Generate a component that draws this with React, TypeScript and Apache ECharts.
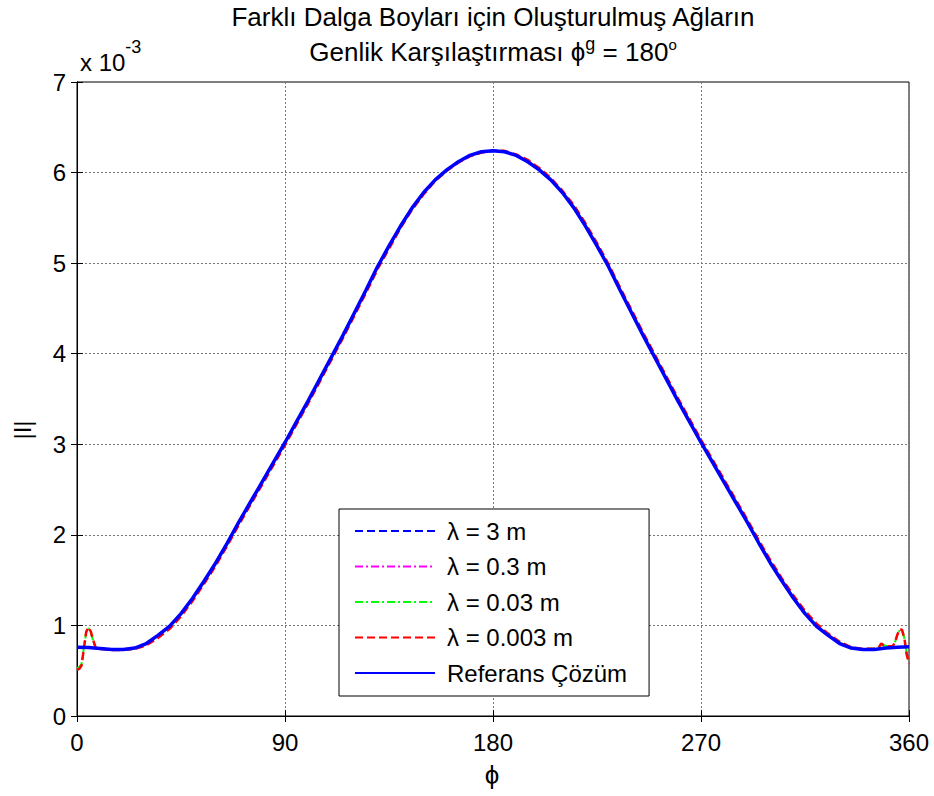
import React, { useEffect, useRef } from "react";
import * as echarts from "echarts";

// ---- data ----
const PHI = [
  0, 5, 10, 15, 20, 25, 30, 35, 40, 45, 50, 55, 60, 65, 70, 75, 80, 85, 90,
  95, 100, 105, 110, 115, 120, 125, 130, 135, 140, 145, 150, 155, 160, 165, 170, 175, 180,
  185, 190, 195, 200, 205, 210, 215, 220, 225, 230, 235, 240, 245, 250, 255, 260, 265, 270,
  275, 280, 285, 290, 295, 300, 305, 310, 315, 320, 325, 330, 335, 340, 345, 350, 355, 360,
];

// Referans Çözüm (×10^-3)
const REF = [
  0.76, 0.755, 0.745, 0.735, 0.735, 0.75, 0.8, 0.89, 0.99, 1.13, 1.3, 1.49, 1.69, 1.91, 2.14, 2.36, 2.58, 2.8, 3.02,
  3.25, 3.48, 3.72, 3.96, 4.2, 4.45, 4.7, 4.96, 5.19, 5.41, 5.61, 5.78, 5.92, 6.03, 6.12, 6.19, 6.23, 6.24,
  6.23, 6.19, 6.12, 6.03, 5.92, 5.78, 5.61, 5.41, 5.19, 4.96, 4.7, 4.45, 4.2, 3.96, 3.72, 3.48, 3.25, 3.02,
  2.8, 2.58, 2.36, 2.14, 1.91, 1.69, 1.49, 1.3, 1.13, 0.99, 0.89, 0.8, 0.75, 0.735, 0.735, 0.75, 0.76, 0.765,
];

// λ = 3 m and λ = 0.3 m follow the reference
const LAMBDA_3 = REF;
const LAMBDA_03 = REF;

// λ = 0.03 m and λ = 0.003 m: edge oscillations
const PHI_EDGE_START = [0, 1, 2, 3, 4, 5, 6, 7, 8, 9, 10];
const PHI_EDGE_END = [345, 347, 348, 349, 351, 353, 354, 355, 356, 357, 358, 359, 360];
const PHI_MID = [
  15, 20, 25, 30, 35, 40, 45, 50, 55, 60, 65, 70, 75, 80, 85, 90,
  95, 100, 105, 110, 115, 120, 125, 130, 135, 140, 145, 150, 155, 160, 165, 170, 175, 180,
  185, 190, 195, 200, 205, 210, 215, 220, 225, 230, 235, 240, 245, 250, 255, 260, 265, 270,
  275, 280, 285, 290, 295, 300, 305, 310, 315, 320, 325, 330, 335, 340,
];

const L003_START = [0.53, 0.54, 0.58, 0.76, 0.93, 0.97, 0.92, 0.83, 0.76, 0.745, 0.745];
const L003_MID = [
  0.735, 0.735, 0.75, 0.8, 0.88, 0.98, 1.12, 1.29, 1.48, 1.68, 1.9, 2.13, 2.35, 2.57, 2.79, 3.01,
  3.24, 3.47, 3.71, 3.95, 4.19, 4.44, 4.69, 4.95, 5.18, 5.4, 5.6, 5.77, 5.92, 6.03, 6.12, 6.19, 6.23, 6.24,
  6.23, 6.19, 6.13, 6.04, 5.93, 5.79, 5.62, 5.42, 5.2, 4.97, 4.71, 4.46, 4.21, 3.97, 3.73, 3.49, 3.26, 3.03,
  2.81, 2.59, 2.37, 2.15, 1.92, 1.7, 1.5, 1.31, 1.14, 1.0, 0.9, 0.81, 0.755, 0.74,
];
const L003_END = [0.745, 0.76, 0.79, 0.78, 0.77, 0.77, 0.82, 0.9, 0.95, 0.94, 0.86, 0.69, 0.6];

const L0003_START = [0.51, 0.52, 0.56, 0.75, 0.93, 0.98, 0.93, 0.84, 0.76, 0.74, 0.74];
const L0003_MID = [
  0.73, 0.73, 0.74, 0.78, 0.86, 0.96, 1.1, 1.27, 1.46, 1.66, 1.88, 2.11, 2.33, 2.55, 2.77, 2.99,
  3.22, 3.45, 3.69, 3.93, 4.17, 4.42, 4.67, 4.93, 5.16, 5.39, 5.59, 5.76, 5.91, 6.02, 6.11, 6.18, 6.22, 6.24,
  6.24, 6.2, 6.14, 6.05, 5.94, 5.8, 5.64, 5.44, 5.22, 4.99, 4.73, 4.48, 4.23, 3.99, 3.75, 3.51, 3.28, 3.05,
  2.83, 2.61, 2.39, 2.17, 1.94, 1.72, 1.52, 1.33, 1.16, 1.02, 0.91, 0.82, 0.76, 0.74,
];
const L0003_END = [0.745, 0.76, 0.8, 0.78, 0.77, 0.77, 0.82, 0.9, 0.96, 0.95, 0.86, 0.68, 0.58];

const X_TICKS = [0, 90, 180, 270, 360];
const Y_TICKS = [0, 1, 2, 3, 4, 5, 6, 7];

const LEGEND_NAMES = ["λ = 3 m", "λ = 0.3 m", "λ = 0.03 m", "λ = 0.003 m", "Referans Çözüm"];
const TITLE_1 = "Farklı Dalga Boyları için Oluşturulmuş Ağların";
const TITLE_2A = "Genlik Karşılaştırması ϕ";
const TITLE_2B = "g";
const TITLE_2C = " = 180";
const X_NAME = "ϕ";
const Y_NAME = "|I|";

const FONT = "Liberation Sans, Arial, Helvetica, sans-serif";

function pairs(xs: number[], ys: number[]) {
  return xs.map((x, i) => [x, ys[i]]);
}

export default function App() {
  const ref = useRef<HTMLDivElement>(null);

  useEffect(() => {
    if (!ref.current) return;
    const chart = echarts.init(ref.current, undefined, { renderer: "svg" });

    const greenData = [
      ...pairs(PHI_EDGE_START, L003_START),
      ...pairs(PHI_MID, L003_MID),
      ...pairs(PHI_EDGE_END, L003_END),
    ];
    const redData = [
      ...pairs(PHI_EDGE_START, L0003_START),
      ...pairs(PHI_MID, L0003_MID),
      ...pairs(PHI_EDGE_END, L0003_END),
    ];

    const lineBase = {
      type: "line" as const,
      symbol: "none",
      showSymbol: false,
      animation: false,
      z: 2,
    };

    const gridRect = { left: 77, top: 82, width: 832, height: 634 };

    chart.setOption({
      animation: false,
      backgroundColor: "#ffffff",
      textStyle: { fontFamily: FONT },
      grid: {
        ...gridRect,
        show: true,
        borderColor: "#000",
        borderWidth: 1,
        backgroundColor: "transparent",
      },
      xAxis: [
        {
          type: "value",
          min: X_TICKS[0],
          max: X_TICKS[X_TICKS.length - 1],
          interval: 90,
          axisLine: { show: true, lineStyle: { color: "#000", width: 1 } },
          axisTick: { show: true, inside: true, length: 6, lineStyle: { color: "#000" } },
          axisLabel: { color: "#000", fontSize: 24, fontFamily: FONT, margin: 14 },
          splitLine: { show: true, lineStyle: { color: "#777", type: [2, 2], width: 1 } },
        },
        {
          type: "value",
          position: "top",
          min: X_TICKS[0],
          max: X_TICKS[X_TICKS.length - 1],
          interval: 90,
          axisLine: { show: true, lineStyle: { color: "#000", width: 1 } },
          axisTick: { show: true, inside: true, length: 6, lineStyle: { color: "#000" } },
          axisLabel: { show: false },
          splitLine: { show: false },
        },
      ],
      yAxis: [
        {
          type: "value",
          min: Y_TICKS[0],
          max: Y_TICKS[Y_TICKS.length - 1],
          interval: 1,
          axisLine: { show: true, lineStyle: { color: "#000", width: 1 } },
          axisTick: { show: true, inside: true, length: 6, lineStyle: { color: "#000" } },
          axisLabel: { color: "#000", fontSize: 24, fontFamily: FONT, margin: 11 },
          splitLine: { show: true, lineStyle: { color: "#777", type: [2, 2], width: 1 } },
        },
        {
          type: "value",
          position: "right",
          min: Y_TICKS[0],
          max: Y_TICKS[Y_TICKS.length - 1],
          interval: 1,
          axisLine: { show: true, lineStyle: { color: "#000", width: 1 } },
          axisTick: { show: true, inside: true, length: 6, lineStyle: { color: "#000" } },
          axisLabel: { show: false },
          splitLine: { show: false },
        },
      ],
      legend: {
        orient: "vertical",
        left: 339,
        top: 509,
        padding: [10, 22, 11, 15],
        backgroundColor: "#ffffff",
        borderColor: "#000",
        borderWidth: 1,
        borderRadius: 0,
        itemWidth: 80,
        itemHeight: 26,
        itemGap: 11.5,
        selectedMode: false,
        itemStyle: { opacity: 0 },
        textStyle: { color: "#000", fontSize: 24, fontFamily: FONT, padding: [0, 0, 0, 7] },
        data: LEGEND_NAMES,
        z: 10,
      },
      series: [
        {
          ...lineBase,
          name: LEGEND_NAMES[0],
          data: pairs(PHI, LAMBDA_3),
          lineStyle: { color: "#0000ff", width: 2, type: [8, 4] },
          itemStyle: { color: "#0000ff" },
        },
        {
          ...lineBase,
          name: LEGEND_NAMES[1],
          data: pairs(PHI, LAMBDA_03),
          lineStyle: { color: "#ff00ff", width: 2, type: [8, 3, 2, 3] },
          itemStyle: { color: "#ff00ff" },
        },
        {
          ...lineBase,
          name: LEGEND_NAMES[2],
          data: greenData,
          lineStyle: { color: "#00ff00", width: 2, type: [8, 3, 2, 3] },
          itemStyle: { color: "#00ff00" },
        },
        {
          ...lineBase,
          name: LEGEND_NAMES[3],
          data: redData,
          lineStyle: { color: "#ff0000", width: 2.5, type: [8, 4] },
          itemStyle: { color: "#ff0000" },
        },
        {
          ...lineBase,
          name: LEGEND_NAMES[4],
          data: pairs(PHI, REF),
          lineStyle: { color: "#0000ff", width: 3.5, type: "solid" },
          itemStyle: { color: "#0000ff" },
          z: 3,
        },
      ],
      graphic: [
        {
          type: "text",
          x: 493,
          y: 17,
          style: {
            text: TITLE_1,
            fill: "#000",
            font: `26px ${FONT}`,
            align: "center",
            verticalAlign: "middle",
          },
        },
        {
          type: "text",
          x: 493,
          y: 50,
          style: {
            text: `{n|${TITLE_2A}}{s|${TITLE_2B}}{n|${TITLE_2C}}{d|o}`,
            fill: "#000",
            align: "center",
            verticalAlign: "middle",
            rich: {
              n: { fontSize: 26, fontFamily: FONT, lineHeight: 30, verticalAlign: "bottom", fill: "#000" },
              s: { fontSize: 18, fontFamily: FONT, lineHeight: 18, verticalAlign: "top", fill: "#000" },
              d: { fontSize: 15, fontFamily: FONT, lineHeight: 15, verticalAlign: "top", padding: [2, 0, 0, 0], fill: "#000" },
            },
          },
        },
        {
          type: "text",
          x: 80,
          y: 56,
          style: {
            text: "{n|x 10}{s|-3}",
            fill: "#000",
            align: "left",
            verticalAlign: "middle",
            rich: {
              n: { fontSize: 24, fontFamily: FONT, lineHeight: 36, verticalAlign: "bottom", fill: "#000" },
              s: { fontSize: 18, fontFamily: FONT, lineHeight: 18, verticalAlign: "top", fill: "#000" },
            },
          },
        },
        {
          type: "text",
          x: 492,
          y: 775,
          style: {
            text: X_NAME,
            fill: "#000",
            font: `26px ${FONT}`,
            align: "center",
            verticalAlign: "middle",
          },
        },
        {
          type: "text",
          x: 22,
          y: 430,
          rotation: Math.PI / 2,
          style: {
            text: Y_NAME,
            fill: "#000",
            font: `24px ${FONT}`,
            align: "center",
            verticalAlign: "middle",
          },
        },
      ],
    });

    return () => chart.dispose();
  }, []);

  return (
    <div
      ref={ref}
      style={{ position: "absolute", left: 0, top: 0, width: 934, height: 796, background: "#fff" }}
    />
  );
}
